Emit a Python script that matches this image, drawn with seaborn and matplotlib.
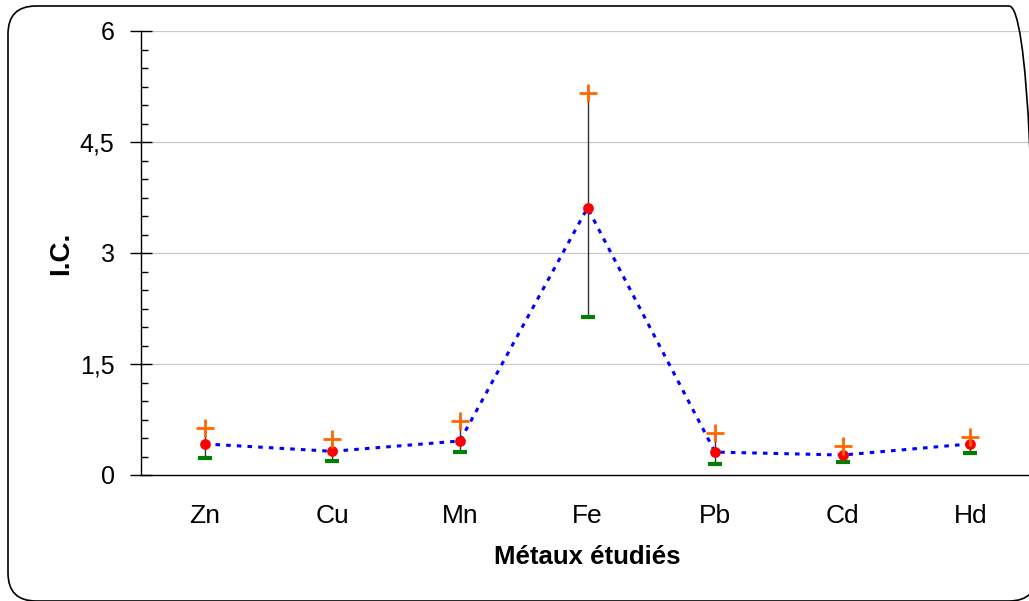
import matplotlib
matplotlib.use("Agg")
import matplotlib.pyplot as plt
import seaborn as sns
import pandas as pd
import numpy as np
from matplotlib.patches import FancyBboxPatch
from matplotlib.transforms import IdentityTransform
from matplotlib.ticker import MultipleLocator, FixedLocator

metals = ["Zn", "Cu", "Mn", "Fe", "Pb", "Cd", "Hd"]
mean_ic = [0.42, 0.32, 0.46, 3.61, 0.31, 0.27, 0.42]
upper_ic = [0.63, 0.49, 0.73, 5.16, 0.57, 0.39, 0.51]
lower_ic = [0.23, 0.19, 0.31, 2.13, 0.15, 0.17, 0.30]
ytick_vals = [0, 1.5, 3, 4.5, 6]
ytick_labels = ["0", "1,5", "3", "4,5", "6"]

sns.set_theme(style="white")
plt.rcParams["font.family"] = ["Liberation Sans", "DejaVu Sans"]

df = pd.DataFrame({"metal": metals, "pos": np.arange(len(metals)),
                   "mean": mean_ic, "upper": upper_ic, "lower": lower_ic})

fig = plt.figure(figsize=(10.29, 6.01), dpi=100)
ax = fig.add_axes([141/1029, 1-475/601, (1034-141)/1029, (475-31)/601])

# grid lines
for v in ytick_vals[1:]:
    ax.axhline(v, color="#c8c8c8", lw=0.9, zorder=0)

# error bars
ax.vlines(df["pos"], df["lower"], df["upper"], color="#333333", lw=1.0, zorder=2)
sns.lineplot(data=df, x="pos", y="mean", ax=ax, color="#0000ff", lw=2.2,
             linestyle=(0, (1.5, 2.0)), zorder=3)
sns.scatterplot(data=df, x="pos", y="lower", ax=ax, marker="_", s=90,
                color="#008000", linewidth=3, zorder=4)
sns.scatterplot(data=df, x="pos", y="mean", ax=ax, marker="o", s=60,
                color="#ff0000", edgecolor="#ff0000", linewidth=0, zorder=5)
sns.scatterplot(data=df, x="pos", y="upper", ax=ax, marker="+", s=160,
                color="#ff6600", linewidth=2, zorder=6)

ax.set_xlim(-0.5, len(metals) - 0.5)
ax.set_ylim(0, 6)

ax.set_xticks(np.arange(len(metals)))
ax.set_xticklabels(metals)
ax.xaxis.set_minor_locator(FixedLocator(np.arange(-0.5, len(metals), 1.0)))
ax.tick_params(axis="x", which="major", length=0, pad=21, labelsize=19, labelcolor="black")
ax.tick_params(axis="x", which="minor", length=16, width=1.0, direction="inout", color="black")

ax.set_yticks(ytick_vals)
ax.set_yticklabels(ytick_labels)
ax.yaxis.set_minor_locator(MultipleLocator(0.25))
ax.tick_params(axis="y", which="major", length=16, width=1.0, direction="inout", color="black",
               pad=11, left=True, labelsize=18, labelcolor="black")
ax.tick_params(axis="y", which="minor", length=5, width=1.0, direction="in", color="black", left=True)

for s in ["top", "right"]:
    ax.spines[s].set_visible(False)
for s in ["left", "bottom"]:
    ax.spines[s].set_color("black")
    ax.spines[s].set_linewidth(1.0)

ax.set_xlabel("Métaux étudiés", fontsize=18.5, fontweight="bold", labelpad=12, color="black")
ax.set_ylabel("I.C.", fontsize=20, fontweight="bold", labelpad=4, color="black")

# rounded frame around figure (pixel coordinates)
frame = FancyBboxPatch((8, 0), 1037 - 8, 595,
                       boxstyle="round,pad=0,rounding_size=28",
                       transform=IdentityTransform(), fill=False, edgecolor="black",
                       lw=1.2)
fig.patches.append(frame)

fig.savefig("out.png", dpi=100)
